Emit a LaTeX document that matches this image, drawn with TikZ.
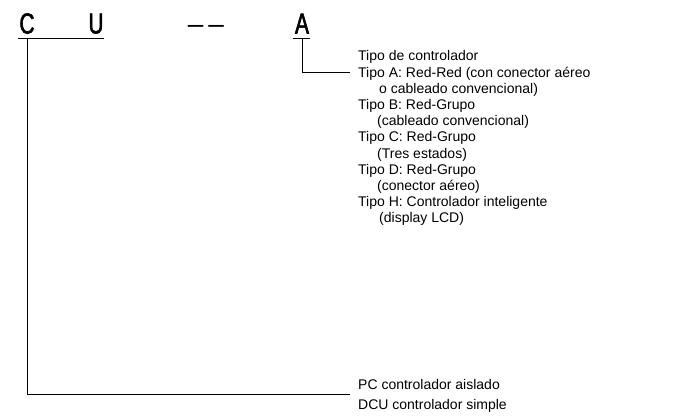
\documentclass[tikz,border=0pt]{standalone}
\usepackage{fontspec}
\setmainfont{Liberation Sans}
\newfontfamily\codefont[FakeStretch=0.72, FakeBold=2]{Liberation Sans}
\usetikzlibrary{positioning}

\begin{document}
\begin{tikzpicture}[
    x=1pt, y=-1pt,
    letter/.style={font=\codefont\fontsize{29}{29}\selectfont, inner sep=0pt, anchor=base},
    item/.style={font=\fontsize{14}{16}\selectfont, inner sep=0pt, anchor=base west},
    bracket/.style={draw=black, line width=0.8pt}
]
\useasboundingbox (0,0) rectangle (678,416);

% Model code
\node[letter] (letC)    at (27,33.5)  {C};
\node[letter] (letU)    at (96,33.5)  {U};
\node[letter, font=\fontsize{28}{28}\selectfont] (letDash) at (206,33.5) {–\kern5pt–};
\node[letter] (letA)    at (302,33.5) {A};

% Controller types
\foreach \ind/\txt [count=\k from 0] in {
    0/{Tipo de controlador},
    0/{Tipo A: Red-Red (con conector aéreo},
    21/{o cableado convencional)},
    0/{Tipo B: Red-Grupo},
    19/{(cableado convencional)},
    0/{Tipo C: Red-Grupo},
    19/{(Tres estados)},
    0/{Tipo D: Red-Grupo},
    19/{(conector aéreo)},
    0/{Tipo H: Controlador inteligente},
    21/{(display LCD)}}
    \node[item] (tipo-\k) at (358+\ind, 60.8+16.2*\k) {\txt};

% Housing types
\node[item] (pc)  at (358,389) {PC controlador aislado};
\node[item] (dcu) at (358,409) {DCU controlador simple};

% Edges
\draw[bracket] ([shift={(-1.5,4.5)}]letC.base west) -- ([shift={(0,4.5)}]letU.base east);
\draw[bracket] ([shift={(-2,4.5)}]letA.base west) -- ([shift={(1,4.5)}]letA.base east);
\draw[bracket] ([shift={(0,4.5)}]letC.base) |- ([shift={(-8,5.5)}]pc.base west);
\draw[bracket] ([shift={(0,4.5)}]letA.base) |- ([shift={(-8,-4.8)}]tipo-1.base west);

\end{tikzpicture}
\end{document}
